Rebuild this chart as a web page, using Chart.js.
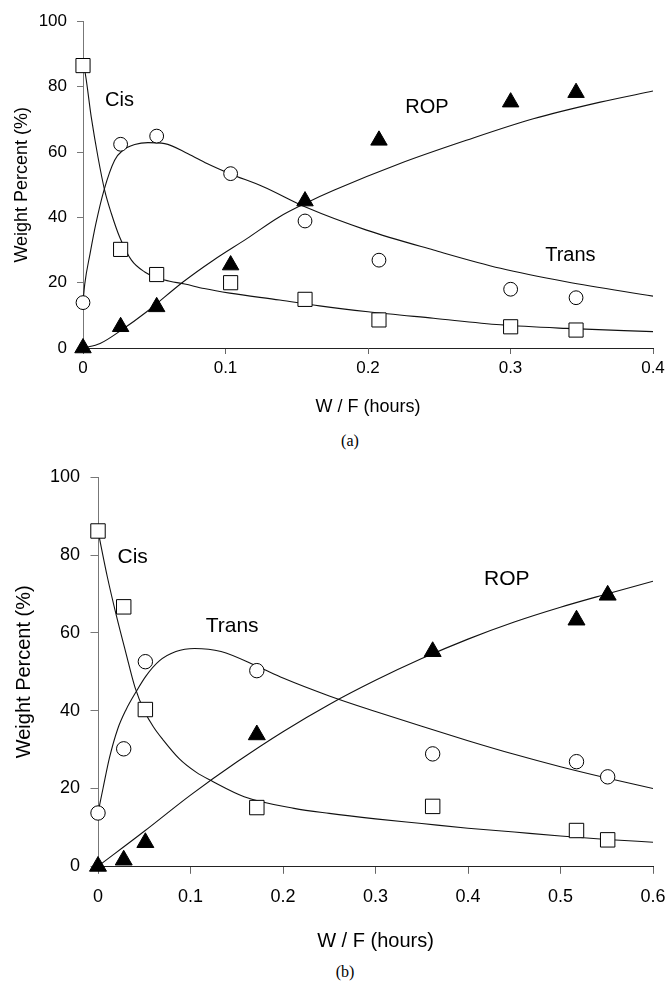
<!DOCTYPE html>
<html>
<head>
<meta charset="utf-8">
<script src="https://cdn.jsdelivr.net/npm/chart.js@4.4.1/dist/chart.umd.min.js"></script>
<style>
  html, body { margin: 0; padding: 0; background: #fff; }
  body { width: 668px; height: 981px; position: relative; overflow: hidden; }
  .panel { position: absolute; left: 0; width: 668px; }
  #panelA { top: 0; height: 425px; }
  #panelB { top: 455px; height: 505px; }
  .caption {
    position: absolute; transform: translate(-50%, -50%);
    font-family: "Liberation Serif", "Times New Roman", serif; font-size: 16px; color: #000;
  }
</style>
</head>
<body>
<div class="panel" id="panelA"><canvas id="chartA"></canvas></div>
<div class="panel" id="panelB"><canvas id="chartB"></canvas></div>
<div class="caption" style="left:350px; top:441px;">(a)</div>
<div class="caption" style="left:345px; top:972px;">(b)</div>

<script>
const FONT = '"Liberation Sans", Arial, sans-serif';

// --- panel (a): measured weight percents, same W/F for all three species
const aWF    = [0, 0.0264, 0.0517, 0.1036, 0.1558, 0.2077, 0.3001, 0.346];
const aCis   = [86.5, 30.2, 22.5, 20.0, 14.9, 8.6, 6.5, 5.5];
const aTrans = [13.9, 62.4, 64.9, 53.4, 38.9, 26.9, 18.0, 15.4];
const aRop   = [0, 6.5, 12.6, 25.4, 45.0, 63.6, 75.3, 78.2];

// --- panel (a): model curves
const aCisFitX   = [0, 0.0012, 0.0058, 0.0105, 0.0152, 0.0199, 0.0257, 0.034, 0.0433, 0.0573, 0.0714, 0.085, 0.103, 0.138, 0.166, 0.200, 0.246, 0.293, 0.339, 0.400];
const aCisFitY   = [86.5, 85, 70.7, 58.5, 48.3, 41.2, 34, 26.9, 23.3, 20.8, 19.6, 18.2, 16.8, 14.7, 12.9, 11.1, 9.1, 7.1, 6.0, 5.0];
const aTransFitX = [0, 0.0012, 0.005, 0.009, 0.0147, 0.0222, 0.0281, 0.0363, 0.0456, 0.0573, 0.0737, 0.087, 0.103, 0.1265, 0.157, 0.199, 0.246, 0.293, 0.339, 0.400];
const aTransFitY = [14, 19.5, 29, 38, 48.3, 57.5, 60.6, 62.3, 62.9, 62.6, 59.5, 56.5, 53.4, 49.4, 43, 36.1, 30, 24.4, 20.3, 15.9];
const aRopFitX   = [0, 0.012, 0.027, 0.0447, 0.0704, 0.0915, 0.115, 0.138, 0.157, 0.176, 0.2225, 0.269, 0.316, 0.363, 0.400];
const aRopFitY   = [0, 1.4, 5.5, 11.1, 20.3, 26.9, 33.5, 40.2, 44.5, 48.3, 56.5, 63.6, 70.2, 75.3, 78.7];

// --- panel (b): measured weight percents
const bWF    = [0, 0.0278, 0.0512, 0.1717, 0.3618, 0.5173, 0.551];
const bCis   = [86.2, 66.7, 40.3, 15.1, 15.4, 9.2, 6.8];
const bTrans = [13.7, 30.2, 52.6, 50.3, 28.9, 26.9, 23.0];
const bRop   = [0, 1.6, 6.1, 33.8, 55.2, 63.3, 69.7];

// --- panel (b): model curves
const bCisFitX   = [0, 0.01, 0.02, 0.03, 0.04, 0.05, 0.06, 0.07, 0.088, 0.106, 0.124, 0.158, 0.212, 0.25, 0.30, 0.35, 0.40, 0.45, 0.50, 0.55, 0.60];
const bCisFitY   = [86.2, 74.5, 64.3, 55, 46, 40, 35.8, 32.6, 27.6, 24.2, 21.8, 17.9, 14.9, 13.6, 12.2, 11.0, 9.8, 8.8, 7.8, 6.9, 6.2];
const bTransFitX = [0, 0.0054, 0.0123, 0.0213, 0.0302, 0.041, 0.0518, 0.0663, 0.0842, 0.1044, 0.133, 0.173, 0.20, 0.25, 0.30, 0.35, 0.40, 0.45, 0.50, 0.55, 0.60];
const bTransFitY = [13.8, 20, 27.8, 35.3, 40.2, 44.8, 48.9, 52.8, 55.2, 56, 55.2, 51.3, 48.4, 43.8, 39.8, 36.0, 32.3, 28.8, 25.6, 22.7, 20.0];
const bRopFitX   = [0, 0.05, 0.10, 0.15, 0.20, 0.25, 0.30, 0.35, 0.40, 0.45, 0.50, 0.55, 0.60];
const bRopFitY   = [0, 9.0, 18.3, 26.8, 34.6, 41.6, 47.8, 53.4, 58.4, 62.8, 66.6, 70.0, 73.3];

// --- tick labels
const aXTicks = ['0', '0.1', '0.2', '0.3', '0.4'];
const bXTicks = ['0', '0.1', '0.2', '0.3', '0.4', '0.5', '0.6'];
const yTicks  = ['0', '20', '40', '60', '80', '100'];
const names   = ['Cis', 'Trans', 'ROP'];

function pts(xs, ys) {
  return xs.map((x, i) => ({ x: x, y: ys[i] }));
}

// writes the species names next to their curves, placed in data units
const curveLabels = {
  id: 'curveLabels',
  afterDatasetsDraw(chart, args, opts) {
    const { ctx, scales } = chart;
    ctx.save();
    ctx.font = opts.size + 'px ' + FONT;
    ctx.fillStyle = '#000';
    ctx.textAlign = 'center';
    ctx.textBaseline = 'middle';
    opts.at.forEach((p, i) => {
      ctx.fillText(names[i], scales.x.getPixelForValue(p[0]), scales.y.getPixelForValue(p[1]));
    });
    ctx.restore();
  }
};

function panel(id, d, L) {
  const curve = (xs, ys) => ({
    data: pts(xs, ys),
    showLine: true,
    pointRadius: 0,
    pointHoverRadius: 0,
    borderColor: '#111',
    borderWidth: 1.1,
    cubicInterpolationMode: 'monotone',
    order: 2
  });
  const marks = (ys, style, r, fill) => ({
    data: pts(d.wf, ys),
    pointStyle: style,
    pointRadius: r,
    pointHoverRadius: r,
    pointBackgroundColor: fill,
    pointBorderColor: '#000',
    pointBorderWidth: 1,
    clip: false,
    order: 1
  });

  return new Chart(document.getElementById(id), {
    type: 'scatter',
    data: {
      datasets: [
        curve(d.cisFit[0], d.cisFit[1]),
        curve(d.transFit[0], d.transFit[1]),
        curve(d.ropFit[0], d.ropFit[1]),
        marks(d.cis, 'rect', L.rect, '#fff'),
        marks(d.trans, 'circle', L.circle, '#fff'),
        marks(d.rop, 'triangle', L.tri, '#000')
      ]
    },
    options: {
      responsive: true,
      maintainAspectRatio: false,
      animation: false,
      events: [],
      layout: { padding: { top: L.top, right: 15, left: 0, bottom: 0 } },
      plugins: {
        legend: { display: false },
        tooltip: { enabled: false },
        curveLabels: { size: L.nameSize, at: L.nameAt }
      },
      scales: {
        x: {
          type: 'linear',
          min: 0,
          max: d.xMax,
          ticks: {
            stepSize: 0.1,
            autoSkip: false,
            maxRotation: 0,
            padding: L.xTickPad,
            color: '#000',
            font: { family: FONT, size: L.tickSize },
            callback: (v, i) => d.xTicks[i]
          },
          grid: { drawOnChartArea: false, drawTicks: true, tickLength: L.tickLen, color: '#666' },
          border: { color: '#222', width: 1 },
          title: {
            display: true,
            text: 'W / F (hours)',
            color: '#000',
            font: { family: FONT, size: L.titleSize },
            padding: { top: 0, bottom: L.xTitlePad }
          },
          // fixed axis band; the end labels may overhang into the margins
          afterFit: s => {
            s.height = L.xAxisH;
            s.paddingLeft = 0;
            s.paddingRight = 0;
          }
        },
        y: {
          type: 'linear',
          min: 0,
          max: 100,
          ticks: {
            stepSize: 20,
            padding: L.yTickPad,
            color: '#000',
            font: { family: FONT, size: L.tickSize },
            callback: (v, i) => yTicks[i]
          },
          grid: { drawOnChartArea: false, drawTicks: true, tickLength: L.tickLen, color: '#777' },
          border: { color: '#777', width: 1 },
          title: {
            display: true,
            text: 'Weight Percent (%)',
            color: '#000',
            font: { family: FONT, size: L.titleSize },
            padding: { top: L.yTitlePad, bottom: 0 }
          },
          afterFit: s => { s.width = L.yAxisW; }
        }
      }
    },
    plugins: [curveLabels]
  });
}

panel('chartA', {
  wf: aWF, cis: aCis, trans: aTrans, rop: aRop,
  cisFit: [aCisFitX, aCisFitY], transFit: [aTransFitX, aTransFitY], ropFit: [aRopFitX, aRopFitY],
  xMax: 0.4, xTicks: aXTicks
}, {
  top: 21.5, yAxisW: 83, xAxisH: 77, tickLen: 6,
  xTickPad: 4, xTitlePad: 7, yTickPad: 10, yTitlePad: 11,
  tickSize: 17, titleSize: 18, nameSize: 20,
  rect: 10, circle: 6.9, tri: 9.5,
  nameAt: [[0.0256, 75.7], [0.342, 28.4], [0.2414, 73.7]]
});

panel('chartB', {
  wf: bWF, cis: bCis, trans: bTrans, rop: bRop,
  cisFit: [bCisFitX, bCisFitY], transFit: [bTransFitX, bTransFitY], ropFit: [bRopFitX, bRopFitY],
  xMax: 0.6, xTicks: bXTicks
}, {
  top: 22.3, yAxisW: 98, xAxisH: 93.7, tickLen: 7.5,
  xTickPad: 12, xTitlePad: 7, yTickPad: 10.5, yTitlePad: 12,
  tickSize: 18, titleSize: 20, nameSize: 21,
  rect: 10.2, circle: 7.2, tri: 9.8,
  nameAt: [[0.0375, 79.4], [0.145, 61.6], [0.442, 73.9]]
});
</script>
</body>
</html>
